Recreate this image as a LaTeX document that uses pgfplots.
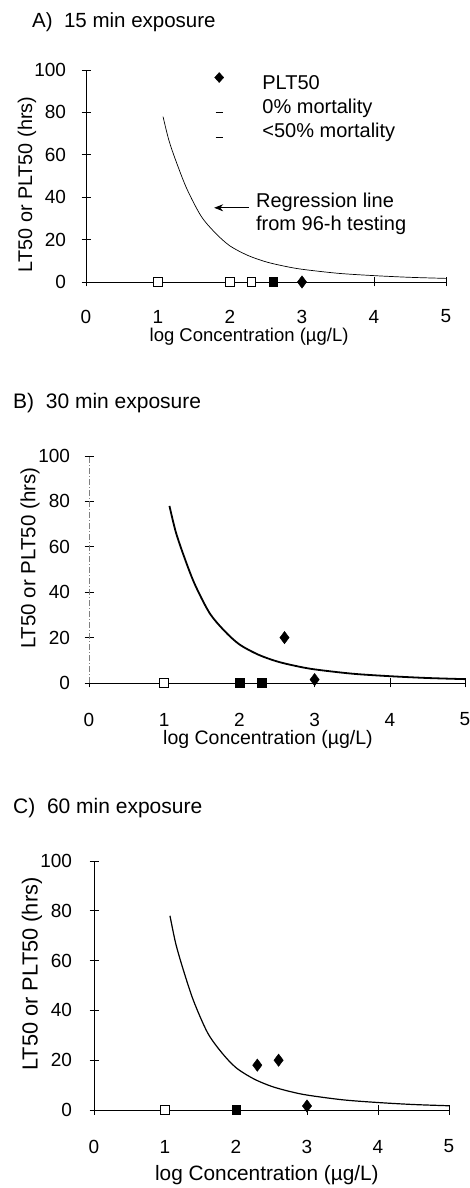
\documentclass[border=0pt]{standalone}
\usepackage{pgfplots}
\pgfplotsset{compat=1.18}
\usepackage{pgfplotstable}
\usepackage{fontspec}
\setmainfont{Liberation Sans}
\usetikzlibrary{arrows.meta}

\pgfplotstableread{
x y
1.07 78
1.15 67
1.25 57
1.40 44
1.60 31
1.80 23
2.00 17
2.25 12.5
2.50 9.5
2.75 7.5
3.00 6
3.50 4.1
4.00 3.0
4.50 2.2
5.00 1.7
}\curve

\pgfplotstableread{
x y
1 0
2 0
2.3 0
}\Aopen
\pgfplotstableread{
x y
2.6 0
}\Afill
\pgfplotstableread{
x y
3 0
}\Adiam

\pgfplotstableread{
x y
1 0
}\Bopen
\pgfplotstableread{
x y
2 0
2.3 0
}\Bfill
\pgfplotstableread{
x y
2.6 20
3 1.5
}\Bdiam

\pgfplotstableread{
x y
1 0
}\Copen
\pgfplotstableread{
x y
2 0
}\Cfill
\pgfplotstableread{
x y
2.3 18
2.6 20
3 1.6
}\Cdiam

\pgfplotsset{
  panel/.style={
    scale only axis,
    anchor=south west,
    axis lines*=left,
    xmin=0, xmax=5, ymin=0, ymax=100,
    xtick={0,1,2,3,4,5},
    ytick={0,20,40,60,80,100},
    tick align=center,
    major tick length=9pt,
    clip=false,
    /pgf/number format/assume math mode=true,
    tick label style={font=\fontsize{19}{22}\selectfont},
    axis line style={line width=0.6pt},
    tick style={line width=0.6pt, black},
  },
  openS/.style={only marks, forget plot, mark=square*, mark size=4.3pt, mark options={fill=white, draw=black, line width=0.9pt}},
  fillS/.style={only marks, forget plot, mark=square*, mark size=4.3pt, mark options={fill=black, draw=black}},
  diamS/.style={only marks, forget plot, mark=diamond*, mark size=6.2pt, mark options={fill=black, draw=black}},
}

\begin{document}
\begin{tikzpicture}
\path[use as bounding box] (0,0) rectangle (470pt,1188pt);

% Panel A
\node[anchor=west, inner sep=0pt, font=\fontsize{20.5}{22}\selectfont] at (32pt,1166pt) {A)\ \ 15 min exposure};
\begin{axis}[panel,
  at={(86pt,906pt)}, width=360pt, height=212pt,
  xlabel={log Concentration (µg/L)},
  ylabel={LT50 or PLT50 (hrs)},
  yticklabel style={anchor=east, xshift=-12pt},
  xticklabel style={anchor=center, yshift=-30pt},
  every axis x label/.style={at={(axis description cs:0.453,-0.259)}, anchor=center, font=\fontsize{18.5}{22}\selectfont},
  every axis y label/.style={at={(axis description cs:-0.164,0.46)}, rotate=90, anchor=center, font=\fontsize{19.8}{22}\selectfont},
  legend style={at={(axis cs:1.764,98.9)}, anchor=north west, draw=none, fill=none, inner sep=0pt, outer sep=0pt,
    font=\fontsize{20}{23}\selectfont, row sep=4pt,
    nodes={inner sep=1pt, text height=14pt, text depth=4pt},
    /tikz/every odd column/.append style={column sep=36pt}},
  legend cell align=left,
]
\addplot[smooth, black, line width=0.7pt, forget plot] table {\curve};
\addplot[openS] table {\Aopen};
\addplot[fillS] table {\Afill};
\addplot[diamS] table {\Adiam};
\addlegendimage{legend image code/.code={\path (-6pt,0) (6pt,0); \fill[black] (0,12pt)--(4.5pt,7pt)--(0,2pt)--(-4.5pt,7pt)--cycle;}}
\addlegendentry{PLT50}
\addlegendimage{legend image code/.code={\path (-6pt,0) (6pt,0); \draw[black, line width=0.7pt] (-3.5pt,-4pt)--(3.5pt,-4pt);}}
\addlegendentry{0\% mortality}
\addlegendimage{legend image code/.code={\path (-6pt,0) (6pt,0); \draw[black, line width=0.7pt] (-3.5pt,-4.5pt)--(3.5pt,-4.5pt);}}
\addlegendentry{<50\% mortality}
\draw[-{Stealth[length=9pt, width=7pt]}, line width=0.8pt] (axis cs:2.26,35) -- (axis cs:1.78,35);
\node[anchor=west, align=left, inner sep=0pt, font=\fontsize{20}{23}\selectfont] at (axis cs:2.36,32.3) {Regression line\\from 96-h testing};
\end{axis}

% Panel B
\node[anchor=west, inner sep=0pt, font=\fontsize{21}{22}\selectfont] at (13pt,785pt) {B)\ \ 30 min exposure};
\begin{axis}[panel,
  at={(89pt,505pt)}, width=376pt, height=227pt,
  xlabel={log Concentration (µg/L)},
  ylabel={LT50 or PLT50 (hrs)},
  y axis line style={gray, dash pattern=on 6pt off 2pt on 1pt off 2pt},
  every axis x label/.style={at={(axis description cs:0.476,-0.247)}, anchor=center, font=\fontsize{19.5}{22}\selectfont},
  every axis y label/.style={at={(axis description cs:-0.157,0.55)}, rotate=90, anchor=center, font=\fontsize{20.5}{22}\selectfont},
  xticklabel style={anchor=center, yshift=-32pt},
  yticklabel style={anchor=east, xshift=-11pt},
]
\addplot[smooth, black, line width=1.8pt, forget plot] table {\curve};
\addplot[openS] table {\Bopen};
\addplot[fillS] table {\Bfill};
\addplot[diamS] table {\Bdiam};
\end{axis}

% Panel C
\node[anchor=west, inner sep=0pt, font=\fontsize{21}{24}\selectfont] at (13pt,380pt) {C)\ \ 60 min exposure};
\begin{axis}[panel,
  at={(94pt,78pt)}, width=355pt, height=249pt,
  xlabel={log Concentration (µg/L)},
  ylabel={LT50 or PLT50 (hrs)},
  every axis x label/.style={at={(axis description cs:0.487,-0.261)}, anchor=center, font=\fontsize{20.8}{24}\selectfont},
  every axis y label/.style={at={(axis description cs:-0.175,0.546)}, rotate=90, anchor=center, font=\fontsize{21.8}{24}\selectfont},
  xticklabel style={anchor=center, yshift=-32pt},
  yticklabel style={anchor=east, xshift=-14pt},
]
\addplot[smooth, black, line width=1.2pt, forget plot] table {\curve};
\addplot[openS] table {\Copen};
\addplot[fillS] table {\Cfill};
\addplot[diamS] table {\Cdiam};
\end{axis}
\end{tikzpicture}
\end{document}
